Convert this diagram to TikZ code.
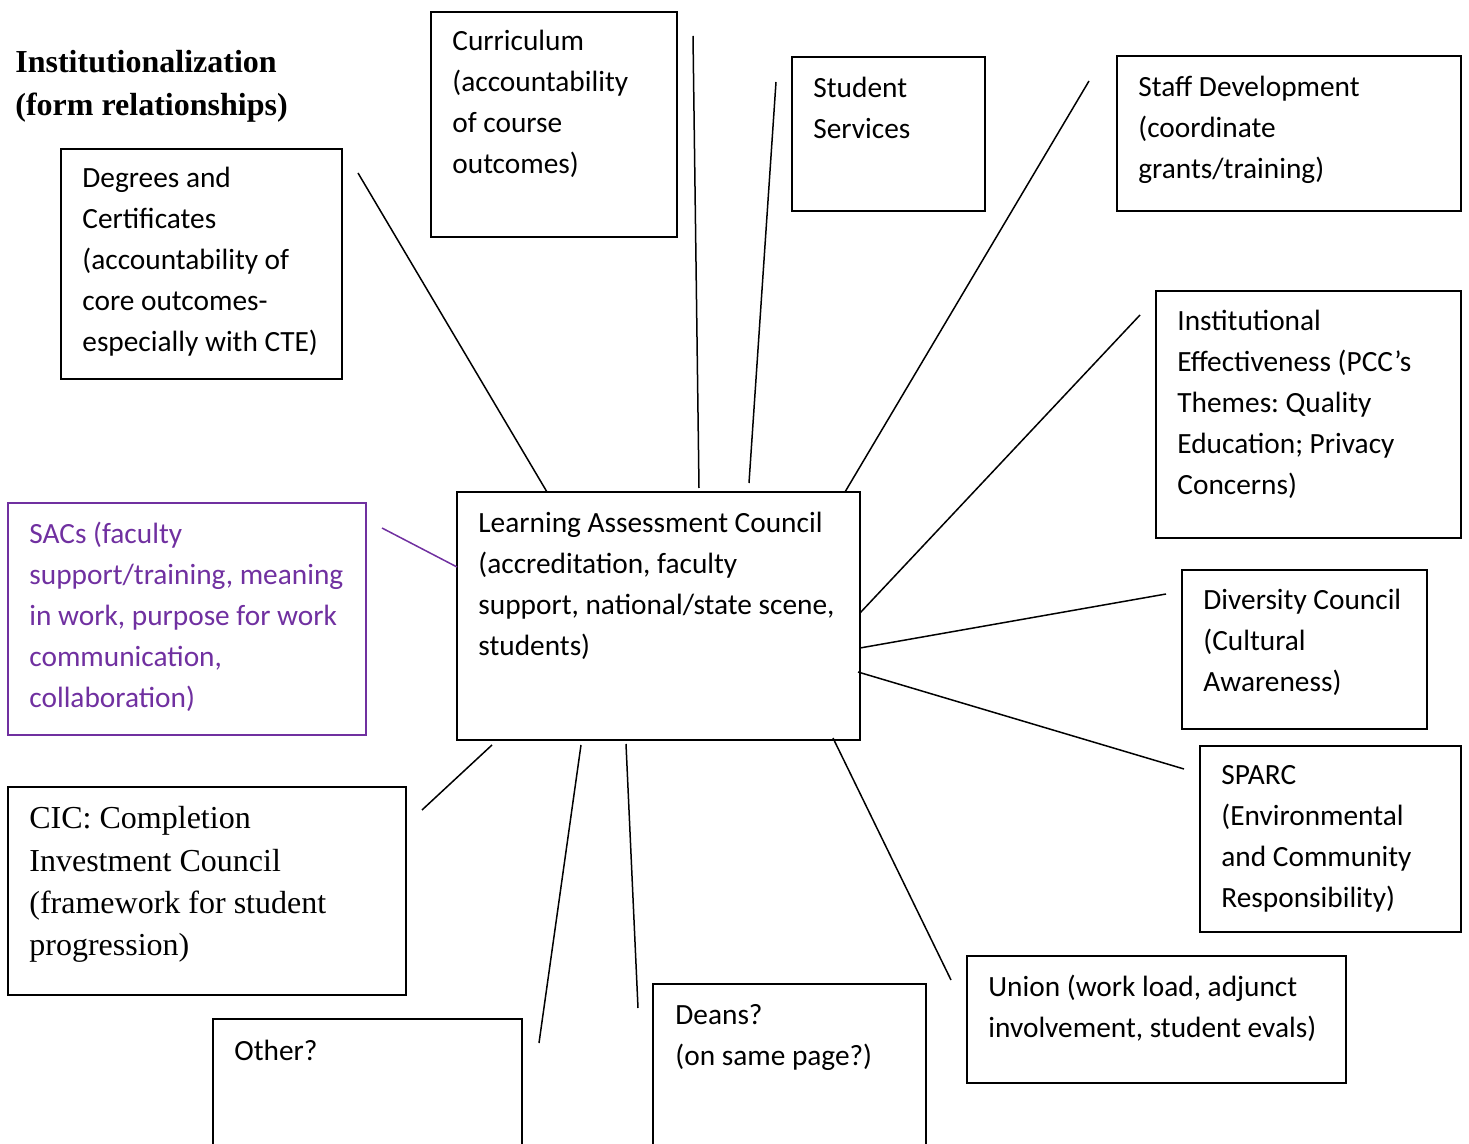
\documentclass[tikz,border=0pt]{standalone}
\usepackage{fontspec}
\setmainfont{Carlito}
\newfontfamily\timesfont{Liberation Serif}
\usetikzlibrary{fit}
\definecolor{sacpurple}{HTML}{7030A0}
\frenchspacing

\tikzset{
  box/.style={draw, line width=1pt, inner sep=0pt},
  boxtext/.style={anchor=north west, inner sep=0pt, align=left,
    font=\fontsize{14.67}{20.5}\selectfont,
    execute at begin node={\rule{0pt}{14pt}}},
  serifitext/.style={boxtext, font=\timesfont\fontsize{16}{21.2}\selectfont},
  link/.style={line width=0.75pt},
}

\begin{document}
\begin{tikzpicture}[x=0.5pt, y=-0.5pt]
    \path[use as bounding box, clip] (0,0) rectangle (1469,1144);

    % Title
    \node[serifitext, font=\timesfont\bfseries\fontsize{16}{21.5}\selectfont] (title) at (15,50)
        {Institutionalization\\(form relationships)};

    % Centre
    \node[box, fit={(457,492) (860,740)}] (lac) {};
    \node[boxtext] (lac-text) at (478,512)
        {Learning Assessment Council\\(accreditation, faculty\\support, national/state scene,\\students)};

    % Boxes round the centre
    \node[box, fit={(61,149) (342,379)}] (degrees) {};
    \node[boxtext] (degrees-text) at (82,167)
        {Degrees and\\Certificates\\(accountability of\\core outcomes-\\especially with CTE)};

    \node[box, fit={(431,12) (677,237)}] (curric) {};
    \node[boxtext] (curric-text) at (452,30)
        {Curriculum\\(accountability\\of course\\outcomes)};

    \node[box, fit={(792,57) (985,211)}] (studserv) {};
    \node[boxtext] (studserv-text) at (813,77) {Student\\Services};

    \node[box, fit={(1117,56) (1461,211)}] (staffdev) {};
    \node[boxtext] (staffdev-text) at (1138,76)
        {Staff Development\\(coordinate\\grants/training)};

    \node[box, fit={(1156,291) (1461,538)}] (ie) {};
    \node[boxtext] (ie-text) at (1177,310)
        {Institutional\\Effectiveness (PCC’s\\Themes: Quality\\Education; Privacy\\Concerns)};

    \node[box, fit={(1182,570) (1427,729)}] (diversity) {};
    \node[boxtext] (diversity-text) at (1203,589)
        {Diversity Council\\(Cultural\\Awareness)};

    \node[box, fit={(1200,746) (1461,932)}] (sparc) {};
    \node[boxtext] (sparc-text) at (1221,765)
        {SPARC\\(Environmental\\and Community\\Responsibility)};

    \node[box, fit={(967,956) (1346,1083)}] (union) {};
    \node[boxtext] (union-text) at (988,975)
        {Union (work load, adjunct\\involvement, student evals)};

    \node[box, fit={(653,984) (926,1170)}] (deans) {};
    \node[boxtext] (deans-text) at (675,1004) {Deans?\\(on same page?)};

    \node[box, fit={(213,1019) (522,1170)}] (other) {};
    \node[boxtext] (other-text) at (234,1032) {Other?};

    \node[box, fit={(8,787) (406,995)}] (cic) {};
    \node[serifitext] (cic-text) at (29,806)
        {CIC: Completion\\Investment Council\\(framework for student\\progression)};

    \node[box, draw=sacpurple, fit={(8,503) (366,735)}] (sacs) {};
    \node[boxtext, text=sacpurple] (sacs-text) at (29,522)
        {SACs (faculty\\support/training, meaning\\in work, purpose for work\\communication,\\collaboration)};

    % Line ends
    \coordinate (degrees-a) at (547,492);   \coordinate (degrees-b) at (358,173);
    \coordinate (curric-a) at (699,488);    \coordinate (curric-b) at (693,36);
    \coordinate (studserv-a) at (749,483);  \coordinate (studserv-b) at (776,82);
    \coordinate (staffdev-a) at (845,492);  \coordinate (staffdev-b) at (1089,81);
    \coordinate (ie-a) at (860,613);        \coordinate (ie-b) at (1140,315);
    \coordinate (diversity-a) at (860,648); \coordinate (diversity-b) at (1166,594);
    \coordinate (sparc-a) at (858,672);     \coordinate (sparc-b) at (1184,769);
    \coordinate (union-a) at (833,738);     \coordinate (union-b) at (951,980);
    \coordinate (deans-a) at (626,744);     \coordinate (deans-b) at (638,1008);
    \coordinate (other-a) at (581,745);     \coordinate (other-b) at (539,1043);
    \coordinate (cic-a) at (492,745);       \coordinate (cic-b) at (422,810);
    \coordinate (sacs-a) at (457,567);      \coordinate (sacs-b) at (382,528);

    % Links
    \draw[link] (degrees-a) -- (degrees-b);
    \draw[link] (curric-a) -- (curric-b);
    \draw[link] (studserv-a) -- (studserv-b);
    \draw[link] (staffdev-a) -- (staffdev-b);
    \draw[link] (ie-a) -- (ie-b);
    \draw[link] (diversity-a) -- (diversity-b);
    \draw[link] (sparc-a) -- (sparc-b);
    \draw[link] (union-a) -- (union-b);
    \draw[link] (deans-a) -- (deans-b);
    \draw[link] (other-a) -- (other-b);
    \draw[link] (cic-a) -- (cic-b);
    \draw[link, sacpurple] (sacs-a) -- (sacs-b);
\end{tikzpicture}
\end{document}
